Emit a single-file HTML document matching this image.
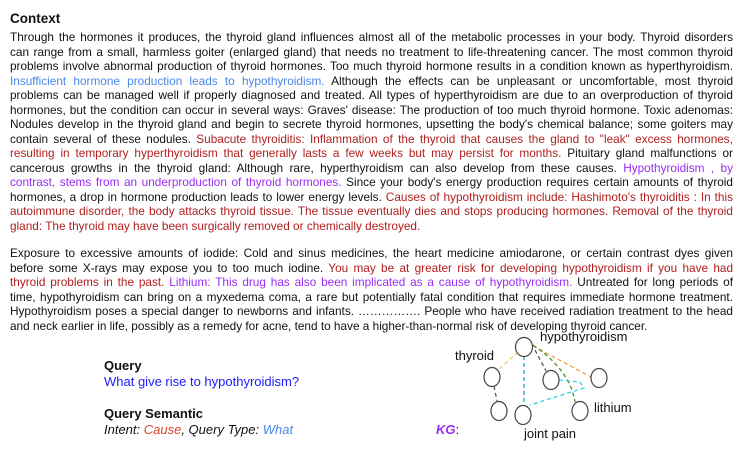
<!DOCTYPE html>
<html><head><meta charset="utf-8"><style>
body{margin:0;width:748px;height:456px;background:#fff;position:relative;overflow:hidden;font-family:"Liberation Sans",Arial,sans-serif;color:#111}
.h{position:absolute;left:10px;top:11px;font-weight:bold;font-size:13.5px}
.p{position:absolute;left:10px;width:723px;font-size:11.8px;line-height:14.5px}
.l{text-align:justify;text-align-last:justify;white-space:nowrap;height:14.5px;overflow:visible}
.l.e{text-align-last:left}
.b{color:#4a86e8}.r{color:#b0201f}.u{color:#9b2cf5}
.q{position:absolute;left:104px;font-size:13px}
</style></head><body>
<div class="h">Context</div>
<div class="p" style="top:30px">
<div class="l">Through the hormones it produces, the thyroid gland influences almost all of the metabolic processes in your body. Thyroid disorders</div>
<div class="l">can range from a small, harmless goiter (enlarged gland) that needs no treatment to life-threatening cancer. The most common thyroid</div>
<div class="l">problems involve abnormal production of thyroid hormones. Too much thyroid hormone results in a condition known as hyperthyroidism.</div>
<div class="l"><span class="b">Insufficient hormone production leads to hypothyroidism.</span> Although the effects can be unpleasant or uncomfortable, most thyroid</div>
<div class="l">problems can be managed well if properly diagnosed and treated. All types of hyperthyroidism are due to an overproduction of thyroid</div>
<div class="l">hormones, but the condition can occur in several ways: Graves' disease: The production of too much thyroid hormone. Toxic adenomas:</div>
<div class="l">Nodules develop in the thyroid gland and begin to secrete thyroid hormones, upsetting the body's chemical balance; some goiters may</div>
<div class="l">contain several of these nodules. <span class="r">Subacute thyroiditis: Inflammation of the thyroid that causes the gland to "leak" excess hormones,</span></div>
<div class="l"><span class="r">resulting in temporary hyperthyroidism that generally lasts a few weeks but may persist for months.</span> Pituitary gland malfunctions or</div>
<div class="l">cancerous growths in the thyroid gland: Although rare, hyperthyroidism can also develop from these causes. <span class="u">Hypothyroidism , by</span></div>
<div class="l"><span class="u">contrast, stems from an underproduction of thyroid hormones.</span> Since your body's energy production requires certain amounts of thyroid</div>
<div class="l">hormones, a drop in hormone production leads to lower energy levels. <span class="r">Causes of hypothyroidism include: Hashimoto's thyroiditis : In this</span></div>
<div class="l"><span class="r">autoimmune disorder, the body attacks thyroid tissue. The tissue eventually dies and stops producing hormones. Removal of the thyroid</span></div>
<div class="l e"><span class="r">gland: The thyroid may have been surgically removed or chemically destroyed.</span></div>
</div>
<div class="p" style="top:246px">
<div class="l">Exposure to excessive amounts of iodide: Cold and sinus medicines, the heart medicine amiodarone, or certain contrast dyes given</div>
<div class="l">before some X-rays may expose you to too much iodine. <span class="r">You may be at greater risk for developing hypothyroidism if you have had</span></div>
<div class="l"><span class="r">thyroid problems in the past.</span> <span class="u">Lithium: This drug has also been implicated as a cause of hypothyroidism.</span> Untreated for long periods of</div>
<div class="l">time, hypothyroidism can bring on a myxedema coma, a rare but potentially fatal condition that requires immediate hormone treatment.</div>
<div class="l">Hypothyroidism poses a special danger to newborns and infants. ……………. People who have received radiation treatment to the head</div>
<div class="l e">and neck earlier in life, possibly as a remedy for acne, tend to have a higher-than-normal risk of developing thyroid cancer.</div>
</div>
<div class="q" style="top:358px;font-weight:bold">Query</div>
<div class="q" style="top:374px;color:#1a1aff">What give rise to hypothyroidism?</div>
<div class="q" style="top:406px;font-weight:bold">Query Semantic</div>
<div class="q" style="top:422px;font-style:italic">Intent: <span style="color:#d9452b">Cause</span>, Query Type: <span style="color:#4a86e8">What</span></div>
<div style="position:absolute;left:436px;top:422px;font-size:13px"><b style="font-style:italic;color:#9b2cf5">KG</b>:</div>
<svg width="748" height="456" style="position:absolute;left:0;top:0">
<g fill="none" stroke-width="1.3" stroke-dasharray="4,3">
<line x1="518" y1="352" x2="498" y2="370" stroke="#f6c766"/>
<line x1="494" y1="386" x2="497" y2="401" stroke="#555"/>
<line x1="524" y1="356" x2="524" y2="404" stroke="#1aa3b8"/>
<line x1="535" y1="350" x2="546" y2="371" stroke="#555"/>
<line x1="533" y1="346" x2="591" y2="377" stroke="#f0a040"/>
<path d="M533 345 Q570 370 575 402" stroke="#4d8a2a"/>
<path d="M559 380 L580 382 L584 388 L530 405" stroke="#33d0e8"/>
</g>
<g fill="#fff" stroke="#444" stroke-width="1.2">
<ellipse cx="524" cy="347" rx="8.5" ry="9.5"/>
<ellipse cx="492" cy="377" rx="8" ry="9.5"/>
<ellipse cx="551" cy="380" rx="8" ry="9.5"/>
<ellipse cx="599" cy="378" rx="8" ry="9.5"/>
<ellipse cx="499" cy="411" rx="8" ry="9.5"/>
<ellipse cx="523" cy="415" rx="8" ry="9.5"/>
<ellipse cx="580" cy="411" rx="8" ry="9.5"/>
</g>
<g font-family="Liberation Sans,Arial,sans-serif" font-size="13" fill="#111">
<text x="540" y="341">hypothyroidism</text>
<text x="455" y="360">thyroid</text>
<text x="594" y="412">lithium</text>
<text x="524" y="438">joint pain</text>
</g>
</svg>
</body></html>
